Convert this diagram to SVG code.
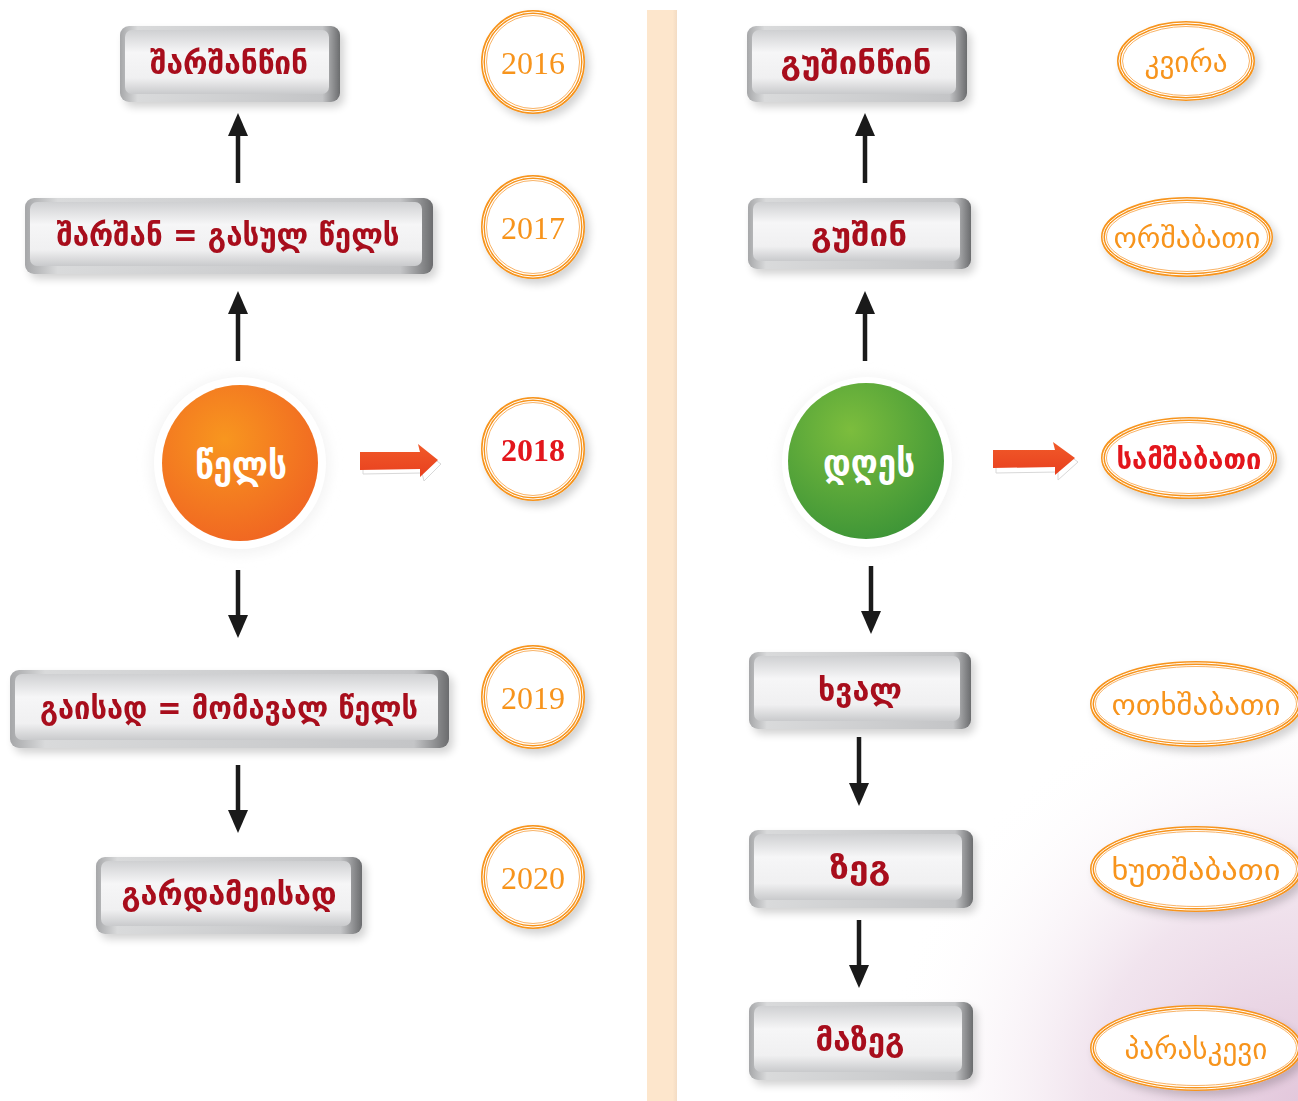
<svg xmlns="http://www.w3.org/2000/svg" width="1298" height="1101" viewBox="0 0 1298 1101">
<defs>
<style>
.bt{font-family:"DejaVu Sans",sans-serif;font-weight:bold;fill:#a8101d;text-anchor:middle;font-size:32px}
.ct{font-family:"DejaVu Sans",sans-serif;font-weight:bold;fill:#ffffff;text-anchor:middle;font-size:37px}
.yr{font-family:"Liberation Serif",serif;fill:#f7941d;text-anchor:middle;font-size:32px}
.et{font-family:"DejaVu Sans",sans-serif;fill:#f7941d;text-anchor:middle;font-size:29px}
.ring{fill:#ffffff;stroke:#f7941d;stroke-width:4}
.ring2{fill:none;stroke:#ffffff;stroke-width:1}
.ring3{fill:none;stroke:#f9b366;stroke-width:1}
.arr{stroke:#1a1a1a;stroke-width:4.5;fill:none}
.ah{fill:#1a1a1a}
</style>
<linearGradient id="bEdge" x1="0" y1="0" x2="1" y2="0">
<stop offset="0" stop-color="#a6a7a9"/><stop offset="0.08" stop-color="#d9dadb"/><stop offset="0.92" stop-color="#c4c5c7"/><stop offset="1" stop-color="#6b6c6e"/>
</linearGradient>
<linearGradient id="bFace" x1="0" y1="0" x2="0" y2="1">
<stop offset="0" stop-color="#cfd0d2"/><stop offset="0.35" stop-color="#f6f6f7"/><stop offset="0.75" stop-color="#f0f0f1"/><stop offset="1" stop-color="#c9cacc"/>
</linearGradient>
<radialGradient id="gOr" cx="0.4" cy="0.35" r="0.7">
<stop offset="0" stop-color="#f8961f"/><stop offset="1" stop-color="#f06522"/>
</radialGradient>
<radialGradient id="gGr" cx="0.4" cy="0.3" r="0.75">
<stop offset="0" stop-color="#7cbd3d"/><stop offset="1" stop-color="#3c9437"/>
</radialGradient>
<linearGradient id="gArr" x1="0" y1="0" x2="0" y2="1">
<stop offset="0" stop-color="#f15a29"/><stop offset="1" stop-color="#e8401f"/>
</linearGradient>
<radialGradient id="gBg" cx="1298" cy="1101" r="420" gradientUnits="userSpaceOnUse">
<stop offset="0" stop-color="#e3c8dc"/><stop offset="0.5" stop-color="#f1e4ee"/><stop offset="1" stop-color="#ffffff" stop-opacity="0"/>
</radialGradient>
<linearGradient id="gStripe" x1="0" y1="0" x2="1" y2="0">
<stop offset="0" stop-color="#fde6cc"/><stop offset="0.85" stop-color="#fde6cc"/><stop offset="1" stop-color="#f3dcc4"/>
</linearGradient>
<filter id="sh" x="-20%" y="-20%" width="150%" height="150%">
<feGaussianBlur in="SourceAlpha" stdDeviation="4"/><feOffset dx="4" dy="5"/>
<feComponentTransfer><feFuncA type="linear" slope="0.18"/></feComponentTransfer>
<feMerge><feMergeNode/><feMergeNode in="SourceGraphic"/></feMerge>
</filter>
<filter id="soft" x="-50%" y="-50%" width="200%" height="200%"><feGaussianBlur stdDeviation="6"/></filter>
</defs>
<rect width="1298" height="1101" fill="#ffffff"/>
<rect x="780" y="680" width="518" height="421" fill="url(#gBg)"/>
<rect x="647" y="10" width="30" height="1091" fill="url(#gStripe)"/>

<g id="connectors">
<g>
<line class="arr" x1="238" y1="183" x2="238" y2="132"/><polygon class="ah" points="238,113 228,136 248,136"/>
<line class="arr" x1="238" y1="361" x2="238" y2="310"/><polygon class="ah" points="238,291 228,314 248,314"/>
<line class="arr" x1="238" y1="570" x2="238" y2="620"/><polygon class="ah" points="238,638 228,615 248,615"/>
<line class="arr" x1="238" y1="765" x2="238" y2="815"/><polygon class="ah" points="238,833 228,810 248,810"/>
<line class="arr" x1="865" y1="183" x2="865" y2="132"/><polygon class="ah" points="865,113 855,136 875,136"/>
<line class="arr" x1="865" y1="361" x2="865" y2="310"/><polygon class="ah" points="865,291 855,314 875,314"/>
<line class="arr" x1="871" y1="566" x2="871" y2="616"/><polygon class="ah" points="871,634 861,611 881,611"/>
<line class="arr" x1="859" y1="737" x2="859" y2="788"/><polygon class="ah" points="859,806 849,783 869,783"/>
<line class="arr" x1="859" y1="920" x2="859" y2="970"/><polygon class="ah" points="859,988 849,965 869,965"/>
</g>
<g>
<polygon points="362,455 421,454 419,447 440,462 423,479 421,471 362,472" fill="#ffffff" stroke="#d8d8d8" stroke-width="1" transform="translate(1,2)"/>
<polygon points="360,452 420,452 418,444 438,460 420,477 420,469 360,470" fill="url(#gArr)"/>
<polygon points="995,453 1057,452 1055,444 1077,460 1057,478 1057,470 995,471" fill="#ffffff" stroke="#d8d8d8" stroke-width="1" transform="translate(1,2)"/>
<polygon points="993,450 1055,450 1053,442 1075,458 1055,475 1055,467 993,468" fill="url(#gArr)"/>
</g>
</g>

<g id="n-sharshanwin" filter="url(#sh)">
<rect x="120" y="26" width="220" height="76" rx="9" fill="url(#bEdge)"/>
<rect x="125" y="30" width="204" height="64" rx="7" fill="url(#bFace)"/>
<text class="bt" x="229" y="74" textLength="158" lengthAdjust="spacingAndGlyphs">შარშანწინ</text>
</g>
<g id="n-sharshan" filter="url(#sh)">
<rect x="25" y="198" width="408" height="76" rx="9" fill="url(#bEdge)"/>
<rect x="30" y="202" width="392" height="64" rx="7" fill="url(#bFace)"/>
<text class="bt" x="228" y="246" textLength="343" lengthAdjust="spacingAndGlyphs">შარშან = გასულ წელს</text>
</g>
<g id="n-wels">
<circle cx="240" cy="465" r="90" fill="#f4f4f4" filter="url(#soft)"/>
<circle cx="240" cy="463" r="86" fill="#ffffff"/>
<circle cx="240" cy="463" r="78" fill="url(#gOr)"/>
<text class="ct" x="241" y="478" textLength="92" lengthAdjust="spacingAndGlyphs">წელს</text>
</g>
<g id="n-gaisad" filter="url(#sh)">
<rect x="10" y="670" width="439" height="78" rx="9" fill="url(#bEdge)"/>
<rect x="15" y="674" width="423" height="66" rx="7" fill="url(#bFace)"/>
<text class="bt" x="229" y="719" textLength="378" lengthAdjust="spacingAndGlyphs">გაისად = მომავალ წელს</text>
</g>
<g id="n-gardameisad" filter="url(#sh)">
<rect x="96" y="857" width="266" height="77" rx="9" fill="url(#bEdge)"/>
<rect x="101" y="861" width="250" height="65" rx="7" fill="url(#bFace)"/>
<text class="bt" x="229" y="905" textLength="215" lengthAdjust="spacingAndGlyphs">გარდამეისად</text>
</g>

<g id="n-2016" filter="url(#sh)">
<circle cx="533" cy="62" r="50" class="ring"/><circle cx="533" cy="62" r="50" class="ring2"/><circle cx="533" cy="62" r="46.5" class="ring3"/>
<text class="yr" x="533" y="74">2016</text>
</g>
<g id="n-2017" filter="url(#sh)">
<circle cx="533" cy="227" r="50" class="ring"/><circle cx="533" cy="227" r="50" class="ring2"/><circle cx="533" cy="227" r="46.5" class="ring3"/>
<text class="yr" x="533" y="239">2017</text>
</g>
<g id="n-2018" filter="url(#sh)">
<circle cx="533" cy="449" r="50" class="ring"/><circle cx="533" cy="449" r="50" class="ring2"/><circle cx="533" cy="449" r="46.5" class="ring3"/>
<text class="yr" x="533" y="461" style="fill:#e3151c;font-weight:bold">2018</text>
</g>
<g id="n-2019" filter="url(#sh)">
<circle cx="533" cy="697" r="50" class="ring"/><circle cx="533" cy="697" r="50" class="ring2"/><circle cx="533" cy="697" r="46.5" class="ring3"/>
<text class="yr" x="533" y="709">2019</text>
</g>
<g id="n-2020" filter="url(#sh)">
<circle cx="533" cy="877" r="50" class="ring"/><circle cx="533" cy="877" r="50" class="ring2"/><circle cx="533" cy="877" r="46.5" class="ring3"/>
<text class="yr" x="533" y="889">2020</text>
</g>

<g id="n-gushinwin" filter="url(#sh)">
<rect x="747" y="26" width="220" height="76" rx="9" fill="url(#bEdge)"/>
<rect x="752" y="30" width="204" height="64" rx="7" fill="url(#bFace)"/>
<text class="bt" x="856" y="74" textLength="151" lengthAdjust="spacingAndGlyphs">გუშინწინ</text>
</g>
<g id="n-gushin" filter="url(#sh)">
<rect x="748" y="198" width="223" height="71" rx="9" fill="url(#bEdge)"/>
<rect x="753" y="202" width="207" height="59" rx="7" fill="url(#bFace)"/>
<text class="bt" x="859" y="246" textLength="96" lengthAdjust="spacingAndGlyphs">გუშინ</text>
</g>
<g id="n-dghes">
<circle cx="868" cy="464" r="88" fill="#f4f4f4" filter="url(#soft)"/>
<circle cx="867" cy="462" r="85" fill="#ffffff"/>
<circle cx="866" cy="461" r="78" fill="url(#gGr)"/>
<text class="ct" x="869" y="476" textLength="92" lengthAdjust="spacingAndGlyphs">დღეს</text>
</g>
<g id="n-khval" filter="url(#sh)">
<rect x="749" y="652" width="222" height="77" rx="9" fill="url(#bEdge)"/>
<rect x="754" y="656" width="206" height="65" rx="7" fill="url(#bFace)"/>
<text class="bt" x="860" y="701" textLength="84" lengthAdjust="spacingAndGlyphs">ხვალ</text>
</g>
<g id="n-zeg" filter="url(#sh)">
<rect x="749" y="830" width="224" height="78" rx="9" fill="url(#bEdge)"/>
<rect x="754" y="834" width="208" height="66" rx="7" fill="url(#bFace)"/>
<text class="bt" x="860" y="879" textLength="61" lengthAdjust="spacingAndGlyphs">ზეგ</text>
</g>
<g id="n-mazeg" filter="url(#sh)">
<rect x="749" y="1002" width="224" height="78" rx="9" fill="url(#bEdge)"/>
<rect x="754" y="1006" width="208" height="66" rx="7" fill="url(#bFace)"/>
<text class="bt" x="860" y="1051" textLength="89" lengthAdjust="spacingAndGlyphs">მაზეგ</text>
</g>

<g id="n-kvira" filter="url(#sh)">
<ellipse cx="1186" cy="61" rx="67" ry="38" class="ring"/><ellipse cx="1186" cy="61" rx="67" ry="38" class="ring2"/><ellipse cx="1186" cy="61" rx="63.5" ry="34.5" class="ring3"/>
<text class="et" x="1186" y="72" textLength="83" lengthAdjust="spacingAndGlyphs">კვირა</text>
</g>
<g id="n-orshabati" filter="url(#sh)">
<ellipse cx="1187" cy="237" rx="84" ry="38" class="ring"/><ellipse cx="1187" cy="237" rx="84" ry="38" class="ring2"/><ellipse cx="1187" cy="237" rx="80.5" ry="34.5" class="ring3"/>
<text class="et" x="1187" y="248" textLength="147" lengthAdjust="spacingAndGlyphs">ორშაბათი</text>
</g>
<g id="n-samshabati" filter="url(#sh)">
<ellipse cx="1189" cy="458" rx="86" ry="39" class="ring"/><ellipse cx="1189" cy="458" rx="86" ry="39" class="ring2"/><ellipse cx="1189" cy="458" rx="82.5" ry="35.5" class="ring3"/>
<text class="et" x="1189" y="469" textLength="145" lengthAdjust="spacingAndGlyphs" style="fill:#e3151c;font-weight:bold">სამშაბათი</text>
</g>
<g id="n-otkhshabati" filter="url(#sh)">
<ellipse cx="1196" cy="704" rx="104" ry="41" class="ring"/><ellipse cx="1196" cy="704" rx="104" ry="41" class="ring2"/><ellipse cx="1196" cy="704" rx="100.5" ry="37.5" class="ring3"/>
<text class="et" x="1196" y="715" textLength="169" lengthAdjust="spacingAndGlyphs">ოთხშაბათი</text>
</g>
<g id="n-khutshabati" filter="url(#sh)">
<ellipse cx="1196" cy="869" rx="104" ry="41" class="ring"/><ellipse cx="1196" cy="869" rx="104" ry="41" class="ring2"/><ellipse cx="1196" cy="869" rx="100.5" ry="37.5" class="ring3"/>
<text class="et" x="1196" y="880" textLength="169" lengthAdjust="spacingAndGlyphs">ხუთშაბათი</text>
</g>
<g id="n-paraskevi" filter="url(#sh)">
<ellipse cx="1196" cy="1048" rx="104" ry="41" class="ring"/><ellipse cx="1196" cy="1048" rx="104" ry="41" class="ring2"/><ellipse cx="1196" cy="1048" rx="100.5" ry="37.5" class="ring3"/>
<text class="et" x="1196" y="1059" textLength="143" lengthAdjust="spacingAndGlyphs">პარასკევი</text>
</g>
</svg>
